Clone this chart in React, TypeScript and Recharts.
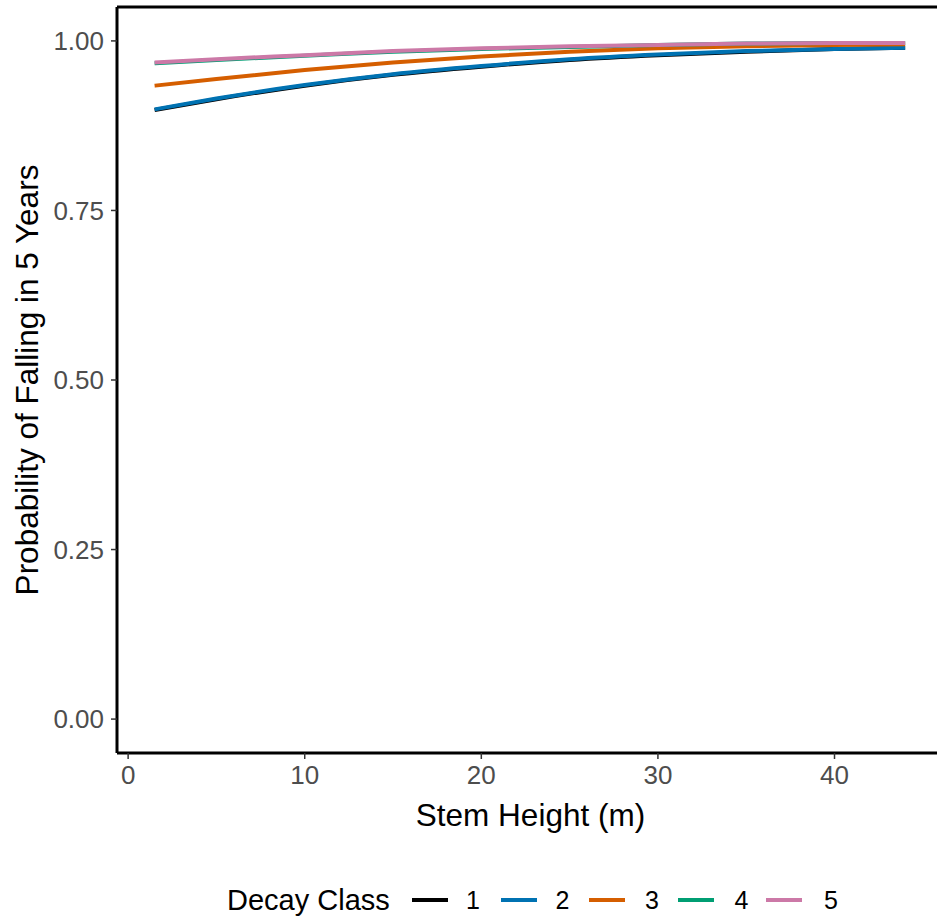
import { LineChart, Line, XAxis, YAxis, ReferenceLine } from 'recharts';

// stem height (m) at which the fitted curves were read
const heights = [1.5, 5, 10, 15, 20, 25, 30, 35, 40, 44];

// probability of falling in 5 years, per decay class
const class1 = [0.898, 0.914, 0.934, 0.950, 0.962, 0.972, 0.979, 0.984, 0.988, 0.990];
const class2 = [0.899, 0.915, 0.935, 0.951, 0.963, 0.973, 0.980, 0.985, 0.988, 0.990];
const class3 = [0.934, 0.944, 0.957, 0.968, 0.977, 0.984, 0.989, 0.992, 0.994, 0.995];
const class4 = [0.967, 0.972, 0.978, 0.984, 0.988, 0.991, 0.994, 0.996, 0.997, 0.997];
const class5 = [0.968, 0.973, 0.979, 0.985, 0.989, 0.992, 0.994, 0.996, 0.997, 0.997];

const classNames = ['1', '2', '3', '4', '5'];
const classColors = ['#000000', '#0072B2', '#D55E00', '#009E73', '#CC79A7'];

const xTicks = [0, 10, 20, 30, 40];
const yTicks = [0, 0.25, 0.5, 0.75, 1];

const data = heights.map((h, i) => ({
  height: h,
  c1: class1[i],
  c2: class2[i],
  c3: class3[i],
  c4: class4[i],
  c5: class5[i],
}));

const FONT = '"Liberation Sans", Arial, sans-serif';

const XTitle = (props: any) => {
  const { viewBox } = props;
  const cx = viewBox.x + viewBox.width / 2;
  return (
    <text x={cx} y={815} textAnchor="middle" dy="0.355em" fill="#000" fontSize={31.5} fontFamily={FONT}>
      Stem Height (m)
    </text>
  );
};

const YTitle = (props: any) => {
  const { viewBox } = props;
  const cy = viewBox.y + viewBox.height / 2;
  return (
    <text
      transform={`translate(27,${cy}) rotate(-90)`}
      textAnchor="middle"
      dy="0.355em"
      fill="#000"
      fontSize={31.5}
      fontFamily={FONT}
    >
      Probability of Falling in 5 Years
    </text>
  );
};

const DecayLegend = () => (
  <div style={{ position: 'absolute', left: 0, top: 884, width: 937, height: 32, fontFamily: FONT, color: '#000' }}>
    <span style={{ position: 'absolute', left: 227, top: 0, fontSize: 29, lineHeight: '32px', whiteSpace: 'nowrap' }}>
      Decay Class
    </span>
    {classNames.map((name, i) => (
      <span key={name}>
        <span
          style={{
            position: 'absolute',
            left: 412 + 88.5 * i,
            top: 14,
            width: 36,
            height: 4,
            background: classColors[i],
          }}
        />
        <span style={{ position: 'absolute', left: 466 + 89.5 * i, top: 0, fontSize: 25, lineHeight: '32px' }}>
          {name}
        </span>
      </span>
    ))}
  </div>
);

export default function App() {
  return (
    <div style={{ width: 937, height: 922, overflow: 'hidden', position: 'relative', background: '#fff' }}>
      <style>{'html,body{margin:0;overflow:hidden}'}</style>
      <LineChart
        width={944}
        height={922}
        data={data}
        margin={{ top: 7, right: 0, bottom: 94, left: 0 }}
        style={{ fontFamily: FONT }}
      >
        <XAxis
          dataKey="height"
          type="number"
          domain={[-0.63, 46.2]}
          ticks={xTicks}
          allowDataOverflow
          height={75}
          tickSize={6}
          tickMargin={7}
          axisLine={{ stroke: '#000', strokeWidth: 3 }}
          tickLine={{ stroke: '#333', strokeWidth: 1.5 }}
          tick={{ fill: '#4D4D4D', fontSize: 26, fontFamily: FONT }}
          label={<XTitle />}
        />
        <YAxis
          type="number"
          domain={[-0.05, 1.05]}
          ticks={yTicks}
          allowDataOverflow
          width={117}
          tickSize={6}
          tickMargin={7}
          tickFormatter={(v: number) => v.toFixed(2)}
          axisLine={{ stroke: '#000', strokeWidth: 3 }}
          tickLine={{ stroke: '#333', strokeWidth: 1.5 }}
          tick={{ fill: '#4D4D4D', fontSize: 26, fontFamily: FONT }}
          label={<YTitle />}
        />
        <ReferenceLine y={1.05} stroke="#000" strokeWidth={3} ifOverflow="visible" />
        {['c1', 'c2', 'c3', 'c4', 'c5'].map((key, i) => (
          <Line
            key={key}
            type="monotone"
            dataKey={key}
            stroke={classColors[i]}
            strokeWidth={4}
            dot={false}
            isAnimationActive={false}
          />
        ))}
      </LineChart>
      <DecayLegend />
    </div>
  );
}
